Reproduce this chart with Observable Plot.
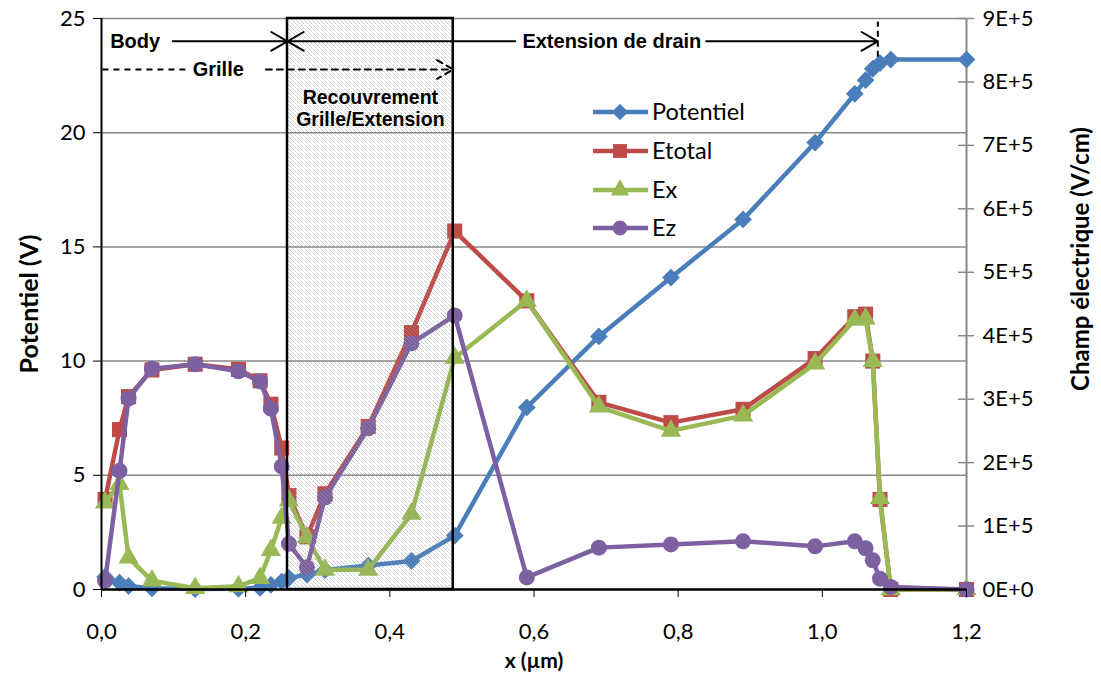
<!DOCTYPE html>
<html><head><meta charset="utf-8">
<script src="https://cdn.jsdelivr.net/npm/d3@7"></script>
<script src="https://cdn.jsdelivr.net/npm/@observablehq/plot@0.6"></script>
<style>
body{margin:0;background:#fff;}
#wrap{position:relative;width:1101px;height:684px;overflow:hidden;}
#legend{position:absolute;left:0;top:0;}
</style></head><body><div id="wrap"></div>
<script>
// ---- data (x in µm) ----
const xPos      = [0.005,0.025,0.0375,0.07,0.13,0.19,0.22,0.235,0.25,0.26,0.285,0.31,0.37,0.43,0.49,0.59,0.69,0.79,0.89,0.99,1.045,1.06,1.07,1.08,1.095,1.2];
const potentiel = [0.55,0.3,0.15,0.05,0.02,0.03,0.07,0.2,0.35,0.5,0.65,0.85,1.05,1.25,2.36,7.97,11.08,13.66,16.2,19.57,21.7,22.3,22.8,23.05,23.2,23.2];
const etotal    = [1.42e5,2.52e5,3.04e5,3.46e5,3.55e5,3.47e5,3.29e5,2.92e5,2.23e5,1.48e5,0.83e5,1.51e5,2.57e5,4.05e5,5.65e5,4.55e5,2.95e5,2.63e5,2.84e5,3.64e5,4.30e5,4.34e5,3.6e5,1.42e5,0,0];
const ex        = [1.37e5,1.66e5,0.50e5,0.14e5,0.02e5,0.05e5,0.18e5,0.62e5,1.13e5,1.40e5,0.82e5,0.31e5,0.31e5,1.19e5,3.65e5,4.55e5,2.88e5,2.50e5,2.74e5,3.56e5,4.25e5,4.27e5,3.6e5,1.44e5,0,0];
const ez        = [0.14e5,1.87e5,3.01e5,3.48e5,3.55e5,3.44e5,3.28e5,2.85e5,1.94e5,0.72e5,0.35e5,1.45e5,2.54e5,3.88e5,4.32e5,0.19e5,0.66e5,0.71e5,0.76e5,0.68e5,0.76e5,0.65e5,0.46e5,0.17e5,0.04e5,0];

const seriesNames   = ["Potentiel","Etotal","Ex","Ez"];
const seriesColors  = ["#4A7EBB","#BE4B48","#98B954","#7D60A0"];
const seriesSymbols = ["diamond2","square","triangle","circle"];
const seriesR       = [8,8.5,7.5,8];

const leftTicks       = [0,5,10,15,20,25];
const xTicks          = [0,0.2,0.4,0.6,0.8,1.0,1.2];
const xTickLabels     = ["0,0","0,2","0,4","0,6","0,8","1,0","1,2"];
const rightTicks      = [0,1e5,2e5,3e5,4e5,5e5,6e5,7e5,8e5,9e5];
const rightTickLabels = ["0E+0","1E+5","2E+5","3E+5","4E+5","5E+5","6E+5","7E+5","8E+5","9E+5"];

// annotation positions (µm / V)
const overlap   = [0.258, 0.488];
const drainEnd  = 1.077;
const rowArrow  = 24.0;
const rowGrille = 22.77;

// ---- scales ----
const vMax = 25, eMax = 9e5, k = vMax / eMax;
const rows = xPos.map((x,i)=>({x, Potentiel: potentiel[i], Etotal: etotal[i]*k, Ex: ex[i]*k, Ez: ez[i]*k}));

const seriesMarks = seriesNames.flatMap((s,i)=>[
  Plot.line(rows,{x:"x",y:s,stroke:seriesColors[i],strokeWidth:4.5,strokeLinejoin:"round"}),
  Plot.dot(rows,{x:"x",y:s,symbol:()=>seriesSymbols[i],fill:seriesColors[i],r:seriesR[i],stroke:"none"})
]);

const hatchDefs = () => {
  const ns="http://www.w3.org/2000/svg";
  const defs=document.createElementNS(ns,"defs");
  const p=document.createElementNS(ns,"pattern");
  p.setAttribute("id","hatch");p.setAttribute("patternUnits","userSpaceOnUse");
  p.setAttribute("width","4");p.setAttribute("height","4");
  const path=document.createElementNS(ns,"path");
  path.setAttribute("d","M-1,-1L5,5M-1,3L1,5M3,-1L5,1");
  path.setAttribute("stroke","#9a9a9a");path.setAttribute("stroke-width","0.75");
  path.setAttribute("stroke-dasharray","1.6 0.9");
  p.appendChild(path);defs.appendChild(p);
  return defs;
};

const annFont = "Liberation Sans, Arial, sans-serif";
const chart = Plot.plot({
  width:1101, height:684,
  marginTop:18, marginRight:135, marginBottom:95, marginLeft:101,
  x:{domain:[0,1.2]}, y:{domain:[0,25]},
  style:{fontFamily:"Lato, sans-serif", fontSize:"22px", color:"black", background:"white", overflow:"visible"},
  marks:[
    hatchDefs,
    Plot.ruleY(leftTicks.slice(1),{stroke:"#888",strokeWidth:1.5}),
    Plot.ruleX([1.2],{stroke:"#888",strokeWidth:2}),
    Plot.ruleY(rightTicks.map(v=>v*k),{x1:1.2,x2:1.2,insetLeft:-8,insetRight:-8,stroke:"#888",strokeWidth:1.5}),
    ...seriesMarks,
    Plot.rect([overlap],{x1:d=>d[0],x2:d=>d[1],y1:0,y2:25,fill:"url(#hatch)",stroke:"black",strokeWidth:2.5}),
    Plot.ruleX([0],{stroke:"black",strokeWidth:2}),
    Plot.ruleY([0],{stroke:"black",strokeWidth:2.5}),
    Plot.axisY(leftTicks,{anchor:"left",tickSize:8,tickPadding:8,stroke:"black",fontSize:22,tickFormat:d=>String(d)}),
    Plot.axisX(xTicks,{anchor:"bottom",tickSize:8,tickPadding:26,fontSize:22,tickFormat:d=>xTickLabels[xTicks.indexOf(d)]}),
    Plot.axisY(rightTicks.map(v=>v*k),{anchor:"right",tickSize:0,tickPadding:16,fontSize:22,tickFormat:d=>rightTickLabels[Math.round(d/k/1e5)]}),
    // axis titles
    Plot.text(["Potentiel (V)"],{frameAnchor:"left",textAnchor:"middle",rotate:-90,dx:-72,fontWeight:"bold",fontSize:25}),
    Plot.text(["Champ électrique (V/cm)"],{frameAnchor:"right",textAnchor:"middle",rotate:-90,dx:115,dy:-45,fontWeight:"bold",fontSize:24}),
    Plot.text(["x (µm)"],{frameAnchor:"bottom",dy:78,fontWeight:"bold",fontSize:21}),
    // annotations
    Plot.text(["Body"],{x:0.012,y:rowArrow,textAnchor:"start",fontFamily:annFont,fontWeight:"bold",fontSize:20}),
    Plot.arrow([{x1:0.099,x2:overlap[0]}],{x1:"x1",x2:"x2",y1:rowArrow,y2:rowArrow,stroke:"black",strokeWidth:2,headLength:14}),
    Plot.arrow([{x1:0.574,x2:overlap[0]}],{x1:"x1",x2:"x2",y1:rowArrow,y2:rowArrow,stroke:"black",strokeWidth:2,headLength:14}),
    Plot.text(["Extension de drain"],{x:0.708,y:rowArrow,fontFamily:annFont,fontWeight:"bold",fontSize:20}),
    Plot.arrow([{x1:0.839,x2:drainEnd}],{x1:"x1",x2:"x2",y1:rowArrow,y2:rowArrow,stroke:"black",strokeWidth:2,headLength:14}),
    Plot.ruleX([drainEnd],{y1:23.3,y2:24.85,stroke:"black",strokeWidth:2,strokeDasharray:"6 4"}),
    Plot.ruleY([rowGrille],{x1:0.002,x2:0.117,stroke:"black",strokeWidth:2,strokeDasharray:"6 5"}),
    Plot.text(["Grille"],{x:0.162,y:rowGrille,fontFamily:annFont,fontWeight:"bold",fontSize:20}),
    Plot.arrow([{x1:0.228,x2:overlap[1]}],{x1:"x1",x2:"x2",y1:rowGrille,y2:rowGrille,stroke:"black",strokeWidth:2,strokeDasharray:"6 5",headLength:14}),
    Plot.text(["Recouvrement","Grille/Extension"],{x:(overlap[0]+overlap[1])/2,y:[21.55,20.55],fontFamily:annFont,fontWeight:"bold",fontSize:19.5})
  ]
});
document.getElementById("wrap").appendChild(chart);

// legend overlay
const leg = d3.select("#wrap").append("svg").attr("id","legend").attr("width",1101).attr("height",684);
const legY = [112,151,190,228];
seriesNames.forEach((s,i)=>{
  const g = leg.append("g").attr("transform",`translate(0,${legY[i]})`);
  g.append("line").attr("x1",593).attr("x2",648).attr("stroke",seriesColors[i]).attr("stroke-width",4.5);
  const sym = {diamond2:d3.symbolDiamond2,square:d3.symbolSquare,triangle:d3.symbolTriangle,circle:d3.symbolCircle}[seriesSymbols[i]];
  g.append("path").attr("transform","translate(620,0)").attr("d",d3.symbol(sym,Math.PI*seriesR[i]*seriesR[i]*0.85)()).attr("fill",seriesColors[i]);
  g.append("text").attr("x",652).attr("dy","0.35em").attr("font-family","Lato, sans-serif").attr("font-size",23.5).text(s);
});
</script></body></html>
